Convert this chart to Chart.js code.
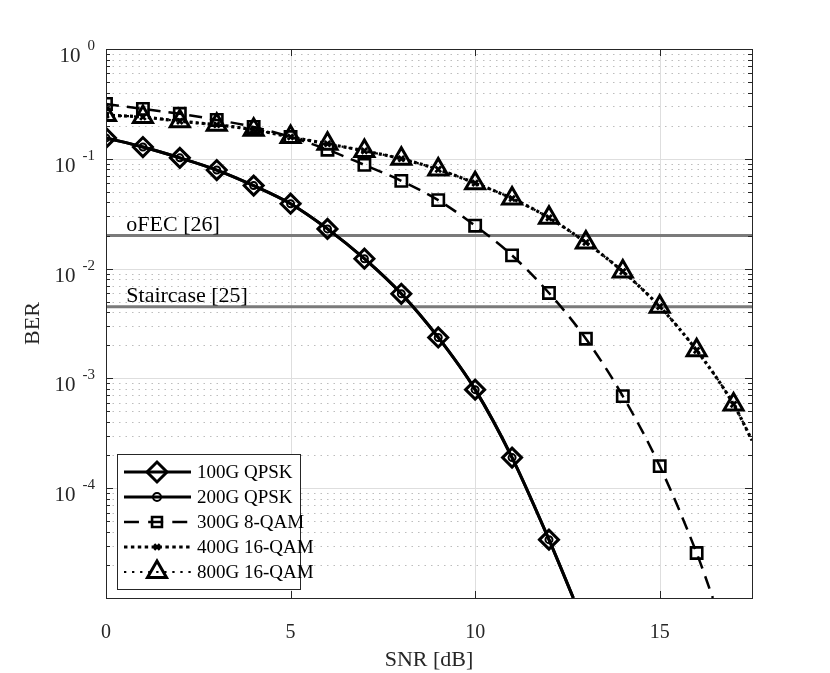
<!DOCTYPE html>
<html>
<head>
<meta charset="utf-8">
<script src="https://cdn.jsdelivr.net/npm/chart.js@4.4.0/dist/chart.umd.min.js"></script>
<style>
  body { margin: 0; background: #fff; }
  #wrap { width: 830px; height: 673px; }
</style>
</head>
<body>
<div id="wrap"><canvas id="berChart"></canvas></div>
<script>
// values (last point of each curve = where it leaves the axes)
const snrQpsk = [0, 1, 2, 3, 4, 5, 6, 7, 8, 9, 10, 11, 12, 12.66];
const berQpsk = [0.155, 0.128, 0.102, 0.079, 0.057, 0.039, 0.023, 0.0123, 0.0059, 0.00236, 0.00079, 0.00019, 3.4e-5, 1e-5];
const snr8qam = [0, 1, 2, 3, 4, 5, 6, 7, 8, 9, 10, 11, 12, 13, 14, 15, 16, 16.44];
const ber8qam = [0.316, 0.285, 0.257, 0.226, 0.195, 0.158, 0.121, 0.088, 0.063, 0.042, 0.0246, 0.0132, 0.006, 0.0023, 0.00069, 0.000159, 2.57e-5, 1e-5];
const snr16qam = [0, 1, 2, 3, 4, 5, 6, 7, 8, 9, 10, 11, 12, 13, 14, 15, 16, 17, 17.5];
const ber16qam = [0.25, 0.24, 0.22, 0.204, 0.184, 0.158, 0.137, 0.118, 0.1, 0.08, 0.06, 0.0435, 0.029, 0.0173, 0.0094, 0.0045, 0.0018, 0.00058, 2.73e-4];
const fecNames = ['oFEC [26]', 'Staircase [25]'];
const fecLimits = [0.02, 0.0045];
const seriesNames = ['100G QPSK', '200G QPSK', '300G 8-QAM', '400G 16-QAM', '800G 16-QAM'];
const xTicks = [0, 5, 10, 15];
const yDecades = [1e-5, 1e-4, 1e-3, 1e-2, 1e-1, 1];

const SNR_MAX = 17.5;
const FONT = 'Liberation Serif';
const AXIS_COLOR = '#262626';

function toPoints(xs, ys) {
    return xs.map((x, i) => ({ x: x, y: ys[i] }));
}

function markerRadius(r) {
    return ctx => (ctx.raw && Number.isInteger(ctx.raw.x)) ? r : 0;
}

function curve(label, xs, ys, opts) {
    return Object.assign({
        label: label,
        data: toPoints(xs, ys),
        borderColor: '#000',
        pointBorderColor: '#000',
        pointBackgroundColor: 'rgba(0,0,0,0)',
        cubicInterpolationMode: 'monotone',
        fill: false,
        order: 0
    }, opts);
}

const datasets = [
    curve(seriesNames[0], snrQpsk, berQpsk, { borderWidth: 3, pointStyle: 'rectRot', pointRadius: markerRadius(9.5), pointBorderWidth: 3, legendRadius: 10 }),
    curve(seriesNames[1], snrQpsk, berQpsk, { borderWidth: 3, pointStyle: 'circle', pointRadius: markerRadius(3.5), pointBorderWidth: 2, legendRadius: 4 }),
    curve(seriesNames[2], snr8qam, ber8qam, { borderWidth: 2.5, borderDash: [13, 8], pointStyle: 'rect', pointRadius: markerRadius(8), pointBorderWidth: 2.6, legendRadius: 7 }),
    curve(seriesNames[3], snr16qam, ber16qam, { borderWidth: 3.2, borderDash: [3, 3], pointStyle: 'crossRot', pointRadius: markerRadius(4), pointBorderWidth: 2.8, legendRadius: 4 }),
    curve(seriesNames[4], snr16qam, ber16qam, { borderWidth: 2.2, borderDash: [2, 5], pointStyle: 'triangle', pointRadius: markerRadius(11), pointBorderWidth: 3, legendRadius: 11 })
];

fecLimits.forEach((v, i) => {
    datasets.push({
        label: fecNames[i],
        data: [{ x: 0, y: v }, { x: SNR_MAX, y: v }],
        borderColor: '#7a7a7a',
        borderWidth: 3,
        pointRadius: 0,
        fill: false,
        order: 10,
        isLimit: true
    });
});

// grid lines (major solid, minor dotted) behind the curves
const gridPlugin = {
    id: 'matlabGrid',
    beforeDatasetsDraw(chart) {
        const { ctx, chartArea: a, scales: { x, y } } = chart;
        ctx.save();
        ctx.lineWidth = 1;
        ctx.strokeStyle = '#bdbdbd';
        ctx.setLineDash([1.5, 5]);
        for (let d = 0; d < yDecades.length - 1; d++) {
            for (let m = 2; m <= 9; m++) {
                const py = Math.round(y.getPixelForValue(yDecades[d] * m)) + 0.5;
                ctx.beginPath();
                ctx.moveTo(a.left, py);
                ctx.lineTo(a.right, py);
                ctx.stroke();
            }
        }
        ctx.setLineDash([]);
        ctx.strokeStyle = '#dedede';
        yDecades.forEach(v => {
            const py = Math.round(y.getPixelForValue(v)) + 0.5;
            ctx.beginPath();
            ctx.moveTo(a.left, py);
            ctx.lineTo(a.right, py);
            ctx.stroke();
        });
        xTicks.forEach(v => {
            const px = Math.round(x.getPixelForValue(v)) + 0.5;
            ctx.beginPath();
            ctx.moveTo(px, a.top);
            ctx.lineTo(px, a.bottom);
            ctx.stroke();
        });
        ctx.restore();
    },
    afterDatasetsDraw(chart) {
        const { ctx, chartArea: a, scales: { x, y } } = chart;
        ctx.save();
        ctx.strokeStyle = AXIS_COLOR;
        ctx.lineWidth = 1;
        // inward tick marks on all four sides
        ctx.beginPath();
        for (let d = 0; d < yDecades.length; d++) {
            const py = Math.round(y.getPixelForValue(yDecades[d])) + 0.5;
            ctx.moveTo(a.left, py); ctx.lineTo(a.left + 7, py);
            ctx.moveTo(a.right, py); ctx.lineTo(a.right - 7, py);
            if (d < yDecades.length - 1) {
                for (let m = 2; m <= 9; m++) {
                    const pm = Math.round(y.getPixelForValue(yDecades[d] * m)) + 0.5;
                    ctx.moveTo(a.left, pm); ctx.lineTo(a.left + 4, pm);
                    ctx.moveTo(a.right, pm); ctx.lineTo(a.right - 4, pm);
                }
            }
        }
        xTicks.forEach(v => {
            const px = Math.round(x.getPixelForValue(v)) + 0.5;
            ctx.moveTo(px, a.bottom); ctx.lineTo(px, a.bottom - 7);
            ctx.moveTo(px, a.top); ctx.lineTo(px, a.top + 7);
        });
        ctx.stroke();
        ctx.strokeRect(Math.round(a.left) + 0.5, Math.round(a.top) + 0.5, Math.round(a.right - a.left), Math.round(a.bottom - a.top));

        // FEC threshold labels
        ctx.fillStyle = '#000';
        ctx.font = '22px "' + FONT + '"';
        ctx.textAlign = 'left';
        ctx.textBaseline = 'alphabetic';
        fecLimits.forEach((v, i) => {
            ctx.fillText(fecNames[i], x.getPixelForValue(0.55), y.getPixelForValue(v) - 5);
        });
        ctx.restore();
    },
    afterDraw(chart) {
        const { ctx, chartArea: a, scales: { y } } = chart;
        ctx.save();
        ctx.fillStyle = AXIS_COLOR;
        // y tick labels as 10^n
        yDecades.forEach(v => {
            if (v < 1e-4) return;
            const py = y.getPixelForValue(v);
            const e = Math.round(Math.log10(v));
            const expStr = e === 0 ? '0' : '-' + (-e);
            ctx.font = '15px "' + FONT + '"';
            const ew = ctx.measureText(expStr).width;
            ctx.textAlign = 'left';
            ctx.textBaseline = 'alphabetic';
            const right = a.left - 11;
            ctx.fillText(expStr, right - ew, py + 1);
            ctx.font = '21px "' + FONT + '"';
            ctx.textAlign = 'right';
            ctx.fillText('10', right - ew - 7, py + 13);
        });

        // legend box with line + marker samples
        const items = chart.data.datasets.filter(d => !d.isLimit);
        const bx = a.left + 11, by = a.bottom - 144, bw = 183, bh = 135;
        ctx.fillStyle = '#fff';
        ctx.fillRect(bx, by, bw, bh);
        ctx.strokeStyle = AXIS_COLOR;
        ctx.lineWidth = 1;
        ctx.strokeRect(bx + 0.5, by + 0.5, bw, bh);
        items.forEach((d, i) => {
            const ly = by + 18 + i * 25;
            ctx.strokeStyle = '#000';
            ctx.lineWidth = d.borderWidth;
            ctx.setLineDash(d.borderDash ? d.borderDash.map(n => n * 1.15) : []);
            ctx.beginPath();
            ctx.moveTo(bx + 7, ly);
            ctx.lineTo(bx + 74, ly);
            ctx.stroke();
            ctx.setLineDash([]);
            ctx.lineWidth = d.pointBorderWidth;
            ctx.fillStyle = 'rgba(0,0,0,0)';
            Chart.helpers.drawPoint(ctx, { pointStyle: d.pointStyle, radius: d.legendRadius, rotation: 0, borderWidth: d.pointBorderWidth }, bx + 40, ly);
            ctx.fillStyle = '#000';
            ctx.font = '19px "' + FONT + '"';
            ctx.textAlign = 'left';
            ctx.textBaseline = 'middle';
            ctx.fillText(d.label, bx + 80, ly + 1);
        });
        ctx.restore();
    }
};

new Chart(document.getElementById('berChart'), {
    type: 'line',
    data: { datasets: datasets },
    plugins: [gridPlugin],
    options: {
        responsive: true,
        maintainAspectRatio: false,
        animation: false,
        layout: { padding: { left: 0, top: 49, right: 78, bottom: 0 } },
        plugins: {
            legend: { display: false },
            tooltip: { enabled: false }
        },
        scales: {
            x: {
                type: 'linear',
                min: 0,
                max: SNR_MAX,
                grid: { display: false },
                border: { display: false },
                ticks: {
                    stepSize: 5,
                    includeBounds: false,
                    color: AXIS_COLOR,
                    padding: 15,
                    font: { family: FONT, size: 20 }
                },
                title: {
                    display: true,
                    text: 'SNR [dB]',
                    color: AXIS_COLOR,
                    padding: { top: 0, bottom: 0 },
                    font: { family: FONT, size: 22 }
                },
                afterFit(scale) { scale.height = 75; }
            },
            y: {
                type: 'logarithmic',
                min: 1e-5,
                max: 1,
                grid: { display: false },
                border: { display: false },
                ticks: { display: false },
                title: {
                    display: true,
                    text: 'BER',
                    color: AXIS_COLOR,
                    padding: { top: 20, bottom: 0 },
                    font: { family: FONT, size: 22 }
                },
                afterFit(scale) { scale.width = 106; }
            }
        }
    }
});
</script>
</body>
</html>
